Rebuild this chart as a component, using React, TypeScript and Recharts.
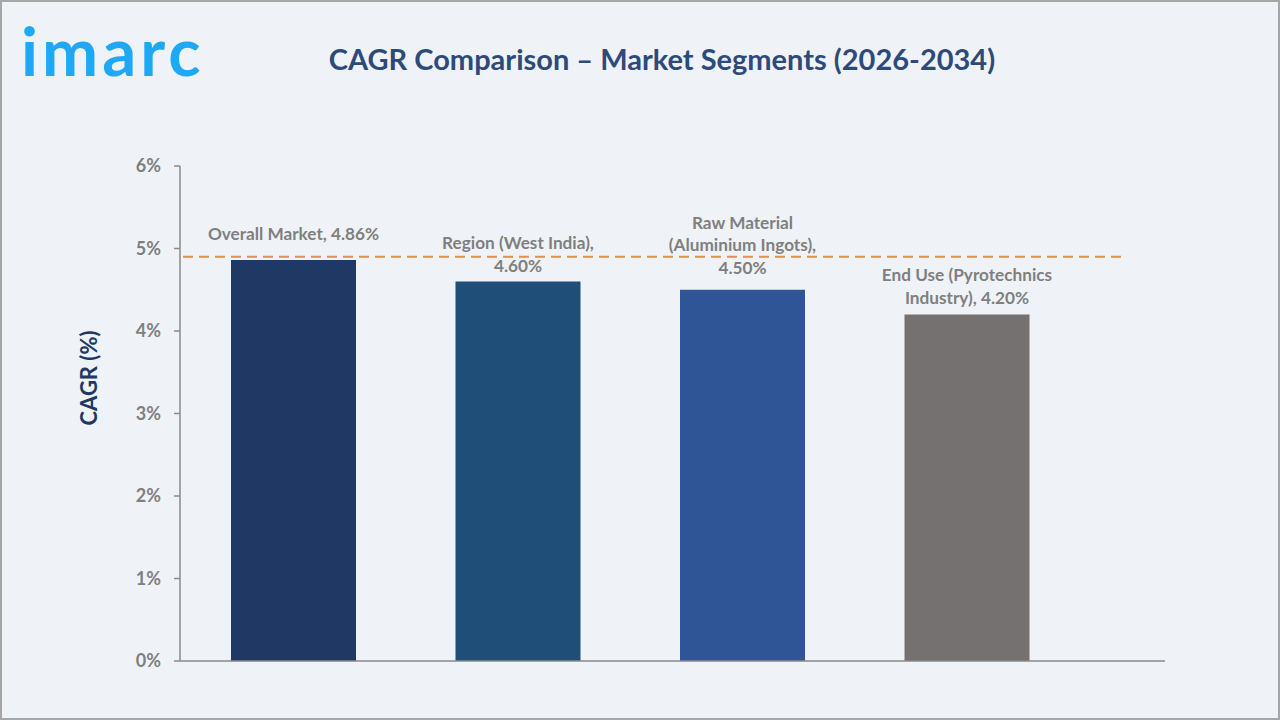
import { BarChart, Bar, XAxis, YAxis, Cell, LabelList, ReferenceLine } from 'recharts';

const CATEGORIES = [
  'Overall Market',
  'Region (West India)',
  'Raw Material (Aluminium Ingots)',
  'End Use (Pyrotechnics Industry)',
];
const CAGR = [4.86, 4.6, 4.5, 4.2];
// label text per bar, split into lines; {v} is replaced by the bar value
const LABEL_LINES = [
  ['Overall Market, {v}'],
  ['Region (West India),', '{v}'],
  ['Raw Material', '(Aluminium Ingots),', '{v}'],
  ['End Use (Pyrotechnics', 'Industry), {v}'],
];
const Y_TICKS = [0, 1, 2, 3, 4, 5, 6];
const BENCHMARK = 4.9;

const BAR_COLORS = ['#203864', '#1F4E79', '#2F5597', '#767171'];
const LABEL_GAP = [20, 10, 16, 11];
const BG = '#EFF3F8';
const AXIS = '#898989';
const TEXT_GRAY = '#7F7F7F';
// share of the plot width covered by the dashed benchmark line
const BENCH_SPAN = 0.96;

const data = CATEGORIES.map((name, i) => ({ name, cagr: CAGR[i] }));

function BarLabel(props: any) {
  const { x, y, width, value, index } = props;
  const lines = LABEL_LINES[index].map(l => l.replace('{v}', `${Number(value).toFixed(2)}%`));
  const cx = x + width / 2;
  const lastBaseline = y - LABEL_GAP[index];
  const lh = 22.5;
  return (
    <text
      x={cx}
      textAnchor="middle"
      fill={TEXT_GRAY}
      fontSize={17.2}
      fontWeight={700}
      fontFamily="Lato, sans-serif"
    >
      {lines.map((line, i) => (
        <tspan key={i} x={cx} y={lastBaseline - (lines.length - 1 - i) * lh}>
          {line}
        </tspan>
      ))}
    </text>
  );
}

function BenchLine(props: any) {
  const { x1, x2, y1 } = props;
  return (
    <line
      x1={x1 + 3}
      x2={x1 + (x2 - x1) * BENCH_SPAN}
      y1={y1}
      y2={y1}
      stroke="#E0904F"
      strokeWidth={2}
      strokeDasharray="10 6"
    />
  );
}

export default function App() {
  return (
    <div style={{ position: 'fixed', left: 0, top: 0, width: 1280, height: 720, background: BG, fontFamily: 'Lato, sans-serif' }}>
      <div
        style={{
          position: 'absolute',
          left: 21,
          top: 10,
          fontSize: 67,
          fontWeight: 700,
          color: '#1FA8F3',
          letterSpacing: 4,
          lineHeight: '80px',
        }}
      >
        imarc
      </div>
      <div
        style={{
          position: 'absolute',
          left: 0,
          width: 1324,
          top: 41,
          textAlign: 'center',
          fontSize: 29,
          fontWeight: 700,
          color: '#2E4A7A',
          lineHeight: '36px',
        }}
      >
        CAGR Comparison – Market Segments (2026-2034)
      </div>
      <div
        style={{
          position: 'absolute',
          left: 88,
          top: 378,
          transform: 'translate(-50%, -50%) rotate(-90deg)',
          fontSize: 22,
          fontWeight: 700,
          color: '#203864',
          whiteSpace: 'nowrap',
        }}
      >
        CAGR (%)
      </div>
      <BarChart
        width={1280}
        height={720}
        data={data}
        margin={{ top: 166, right: 115, bottom: 58, left: 100 }}
        style={{ position: 'absolute', left: 0, top: 0 }}
      >
        <XAxis
          dataKey="name"
          tick={false}
          tickLine={false}
          height={1}
          padding={{ left: 1, right: 86 }}
          axisLine={{ stroke: AXIS, strokeWidth: 1.5 }}
        />
        <YAxis
          width={80}
          domain={[0, 6]}
          ticks={Y_TICKS}
          tickFormatter={(v: number) => `${v}%`}
          axisLine={{ stroke: AXIS, strokeWidth: 1.5 }}
          tickLine={{ stroke: AXIS, strokeWidth: 1.5 }}
          tickSize={6}
          tickMargin={13}
          tick={{ fill: TEXT_GRAY, fontSize: 18, fontWeight: 700, fontFamily: 'Lato, sans-serif' }}
        />
        <Bar dataKey="cagr" barSize={125} isAnimationActive={false}>
          {data.map((d, i) => (
            <Cell key={d.name} fill={BAR_COLORS[i]} />
          ))}
          <LabelList dataKey="cagr" content={<BarLabel />} />
        </Bar>
        <ReferenceLine y={BENCHMARK} shape={BenchLine} />
      </BarChart>
      <div
        style={{
          position: 'absolute',
          inset: 0,
          border: '2px solid #A6A6A6',
          pointerEvents: 'none',
        }}
      />
    </div>
  );
}
